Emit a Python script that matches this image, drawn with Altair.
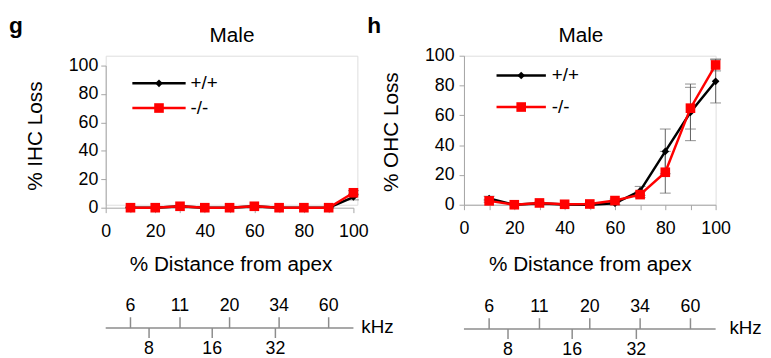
import altair as alt
import pandas as pd

FONT = "Liberation Sans"

# ---------------- data ----------------
position = [10, 20, 30, 40, 50, 60, 70, 80, 90, 100]
genotypes = ["+/+", "-/-"]
colors = ["#000000", "#ff0000"]
shapes = ["diamond", "square"]

ihc_wt = [0, 0, 1, 0, 0, 1, 0, 0, 0, 7.5]
ihc_ko = [0, 0, 1, 0, 0, 1, 0, 0, 0, 10.5]
ihc_wt_err = [0.5, 0, 0.5, 0, 0, 0.5, 0, 0, 0, 2]
ihc_ko_err = [0, 0, 0, 0, 0, 0, 0, 0, 0, 1.5]

ohc_wt = [4.2, 0, 1, 0.2, 0, 1, 9.3, 35.8, 62, 82.8]
ohc_ko = [2.6, 0, 1.2, 0.3, 0.5, 2.8, 6.8, 21.8, 64.8, 93.8]
ohc_wt_err = [1.5, 0.5, 0.5, 0.3, 0.3, 1, 3, 15, 19, 14.5]
ohc_ko_err = [1, 0.3, 0.5, 0.3, 0.5, 1, 2, 14, 14, 4]

x_ticks = [0, 10, 20, 30, 40, 50, 60, 70, 80, 90, 100]
y_ticks = [0, 20, 40, 60, 80, 100]

freq_top_khz = ["6", "11", "20", "34", "60"]
freq_top_pos = [10, 30, 50, 70, 90]
freq_bottom_khz = ["8", "16", "32"]
freq_bottom_pos = [17.5, 43, 68.5]
freq_axis_span = [0, 100]

AXIS_GRAY = "#a6a6a6"
ERR_GRAY = "#606060"


def note(text, x, y, size, align="left", weight="normal", baseline="middle"):
    return alt.Chart(pd.DataFrame({"t": [text]})).mark_text(
        align=align, baseline=baseline, fontSize=size, fontWeight=weight,
        font=FONT, color="black"
    ).encode(text="t:N", x=alt.value(x), y=alt.value(y))


def panel(letter, ylabel, wt, ko, wt_err, ko_err, cfg):
    rows = []
    for g, vals, errs in [(genotypes[0], wt, wt_err), (genotypes[1], ko, ko_err)]:
        for p, v, e in zip(position, vals, errs):
            rows.append({"pos": p, "val": v, "lo": max(v - e, 0), "hi": v + e, "geno": g})
    df = pd.DataFrame(rows)

    xscale = alt.Scale(domain=[0, 100], range=cfg["xrange"], nice=False)
    yscale = alt.Scale(domain=[0, 100], range=cfg["yrange"], nice=False)
    xaxis = alt.Axis(
        values=x_ticks, labelExpr="datum.value % 20 == 0 ? datum.label : ''",
        title="% Distance from apex", titleFontSize=21, titleFontWeight="normal",
        titleX=cfg["xtitle"][0], titleY=cfg["xtitle"][1], titleAlign="center",
        titleBaseline="middle", labelFontSize=18, labelColor="black",
        tickSize=5, labelPadding=cfg["xlabpad"], domainColor=AXIS_GRAY,
        tickColor=AXIS_GRAY, grid=False, offset=cfg["xoffset"], labelFont=FONT,
        titleFont=FONT, titleColor="black", labelFlush=False,
    )
    yaxis = alt.Axis(
        values=y_ticks, title=ylabel, titleFontSize=21, titleFontWeight="normal",
        titleX=cfg["ytitle"][0], titleY=cfg["ytitle"][1], titleAngle=270,
        titleAlign="center", titleBaseline="middle", labelFontSize=18,
        labelColor="black", tickSize=5, labelPadding=cfg["ylabpad"],
        domainColor=AXIS_GRAY, tickColor=AXIS_GRAY, grid=False, labelFont=FONT,
        titleFont=FONT, titleColor="black", labelFlush=False,
    )

    def X(field):
        return alt.X(field, type="quantitative", scale=xscale, axis=xaxis, title="% Distance from apex")

    def Y(field):
        return alt.Y(field, type="quantitative", scale=yscale, axis=yaxis, title=ylabel)

    base = alt.Chart(df)
    layers = []
    # error bars
    layers.append(base.mark_rule(color=ERR_GRAY, strokeWidth=1).encode(
        x=X("pos"), y=Y("lo"), y2="hi:Q"))
    layers.append(base.transform_fold(["lo", "hi"], as_=["k", "ev"]).mark_tick(
        orient="horizontal", color=ERR_GRAY, size=11, thickness=1).encode(
        x=X("pos"), y=Y("ev")))
    # series
    for g, c, s, sz in zip(genotypes, colors, shapes, [60, 95]):
        sub = base.transform_filter(alt.datum.geno == g)
        layers.append(sub.mark_line(color=c, strokeWidth=2.5).encode(x=X("pos"), y=Y("val")))
        layers.append(sub.mark_point(shape=s, filled=True, color=c, size=sz, opacity=1).encode(
            x=X("pos"), y=Y("val")))

    # legend
    lx1, lx2, lxm, ltx = cfg["legx"]
    for g, c, s, sz, ly in zip(genotypes, colors, shapes, [60, 95], cfg["legy"]):
        one = alt.Chart(pd.DataFrame({"g": [g]}))
        layers.append(one.mark_rule(color=c, strokeWidth=2.5).encode(
            x=alt.value(lx1), x2=alt.value(lx2), y=alt.value(ly)))
        layers.append(one.mark_point(shape=s, filled=True, color=c, size=sz, opacity=1).encode(
            x=alt.value(lxm), y=alt.value(ly)))
        layers.append(note(g, ltx, ly, 19))

    # frequency scale
    fy = cfg["fy"]
    fspan = pd.DataFrame({"pos": [freq_axis_span[0]], "pos2": [freq_axis_span[1]]})
    layers.append(alt.Chart(fspan).mark_rule(color="#8c8c8c", strokeWidth=1.5).encode(
        x=X("pos"), x2="pos2:Q", y=alt.value(fy)))
    ftop = pd.DataFrame({"pos": freq_top_pos, "lab": freq_top_khz})
    fbot = pd.DataFrame({"pos": freq_bottom_pos, "lab": freq_bottom_khz})
    layers.append(alt.Chart(ftop).mark_rule(color="#8c8c8c", strokeWidth=1.5).encode(
        x=X("pos"), y=alt.value(fy - 11), y2=alt.value(fy)))
    layers.append(alt.Chart(fbot).mark_rule(color="#8c8c8c", strokeWidth=1.5).encode(
        x=X("pos"), y=alt.value(fy), y2=alt.value(fy + 10)))
    layers.append(alt.Chart(ftop).mark_text(fontSize=18, font=FONT, color="black", baseline="middle").encode(
        x=X("pos"), y=alt.value(fy - 22), text="lab:N"))
    layers.append(alt.Chart(fbot).mark_text(fontSize=18, font=FONT, color="black", baseline="middle").encode(
        x=X("pos"), y=alt.value(fy + 21), text="lab:N"))
    layers.append(note("kHz", cfg["khzx"], fy - 1, 19))

    # titles / letters
    layers.append(note("Male", cfg["male"][0], cfg["male"][1], 21, align="center"))
    layers.append(note(letter, -98, cfg["lettery"], 23, weight="bold", baseline="alphabetic"))
    # invisible top-left anchor
    layers.append(alt.Chart(pd.DataFrame({"a": [0]})).mark_rule(opacity=0).encode(
        x=alt.value(-98), y=alt.value(-45), y2=alt.value(-44)))

    return alt.layer(*layers).properties(width=255, height=151)


g_cfg = dict(xrange=[0, 251], yrange=[154, 10], xoffset=3, xlabpad=10, ylabpad=3,
             xtitle=[126.5, 58], ytitle=[-71, 81], legx=[27, 81, 54, 86], legy=[28, 53],
             fy=276, khzx=259, male=[128, -20], lettery=-23)
h_cfg = dict(xrange=[0, 255], yrange=[151, 0], xoffset=0, xlabpad=10, ylabpad=5,
             xtitle=[127.5, 61], ytitle=[-73, 77], legx=[33, 83, 58, 89], legy=[20, 52],
             fy=277, khzx=269, male=[118.5, -20], lettery=-23)

g_chart = panel("g", "% IHC Loss", ihc_wt, ihc_ko, ihc_wt_err, ihc_ko_err, g_cfg)
h_chart = panel("h", "% OHC Loss", ohc_wt, ohc_ko, ohc_wt_err, ohc_ko_err, h_cfg)

chart = alt.hconcat(g_chart, h_chart, spacing=108, bounds="flush").properties(
    padding=0
).configure_view(stroke=None).configure(font=FONT)

chart.save("out.html", embed_options={"renderer": "svg", "actions": False})
